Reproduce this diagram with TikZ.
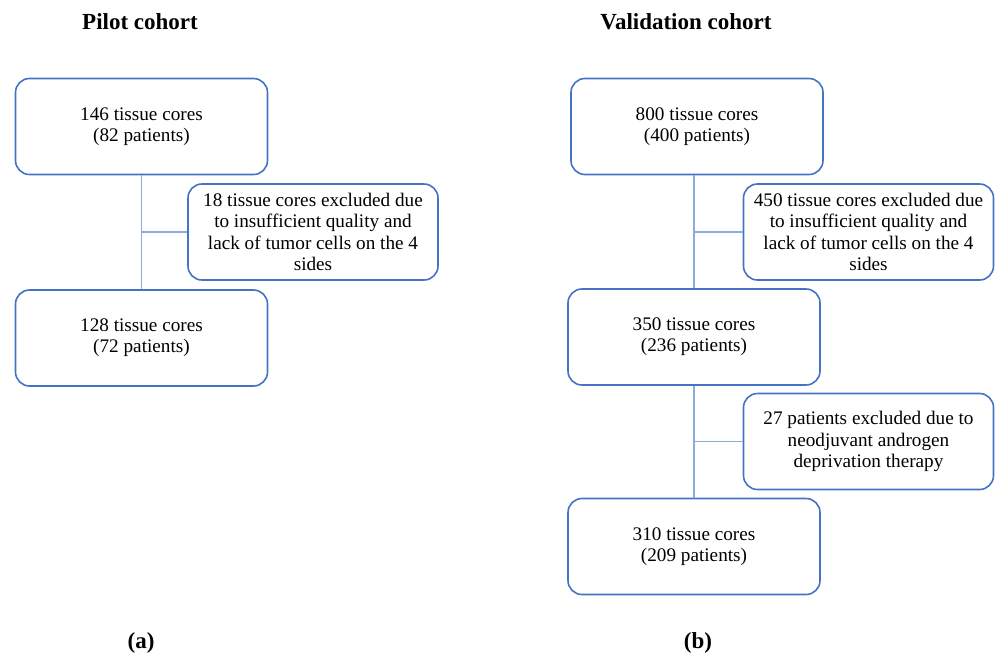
\documentclass[tikz,border=0pt]{standalone}
\usepackage{fontspec}
\setmainfont{Liberation Serif}
\usetikzlibrary{positioning}

\begin{document}
\begin{tikzpicture}[x=0.5pt, y=-0.5pt,
    stagebox/.style={draw=boxblue, line width=0.8pt, rounded corners=7pt, minimum width=126pt, minimum height=48pt, align=center, font=\fontsize{9.6}{10.6}\selectfont},
    exclbox/.style={stagebox, minimum width=125pt},
    link/.style={draw=linkblue, line width=0.6pt},
    heading/.style={font=\fontsize{11.5}{13}\selectfont\bfseries}]
  \definecolor{boxblue}{RGB}{68,114,196}
  \definecolor{linkblue}{RGB}{143,170,220}
  \useasboundingbox (0,0) rectangle (995,655);
  % pilot cohort
  \node[heading] (pilot) at (140,22) {Pilot cohort};
  \node[stagebox] (pilotA) at (141.5,126.5) {146 tissue cores\\(82 patients)};
  \node[exclbox] (pilotX) at (313,232) {18 tissue cores excluded due\\to insufficient quality and\\lack of tumor cells on the 4\\sides};
  \node[stagebox] (pilotB) at (141.5,338) {128 tissue cores\\(72 patients)};
  \draw[link] (pilotA.south) -- (pilotB.north);
  \coordinate (pilotJ) at (pilotA.south |- pilotX.west);
  \draw[link] (pilotJ) -- (pilotX.west);
  \node[heading] (pilotlab) at (141,643) {(a)};
  % validation cohort
  \node[heading] (valid) at (686,22) {Validation cohort};
  \node[stagebox] (validA) at (697,126.5) {800 tissue cores\\(400 patients)};
  \node[exclbox] (validX) at (868.5,232) {450 tissue cores excluded due\\to insufficient quality and\\lack of tumor cells on the 4\\sides};
  \node[stagebox] (validB) at (694,337) {350 tissue cores\\(236 patients)};
  \node[exclbox] (validY) at (868.5,441.5) {27 patients excluded due to\\neodjuvant androgen\\deprivation therapy};
  \node[stagebox] (validC) at (694,546.5) {310 tissue cores\\(209 patients)};
  \draw[link] (validA.south -| validB.north) -- (validB.north);
  \draw[link] (validB.south) -- (validC.north);
  \draw[link] (validB.north |- validX.west) -- (validX.west);
  \draw[link] (validB.south |- validY.west) -- (validY.west);
  \node[heading] (validlab) at (698,643) {(b)};
\end{tikzpicture}
\end{document}
